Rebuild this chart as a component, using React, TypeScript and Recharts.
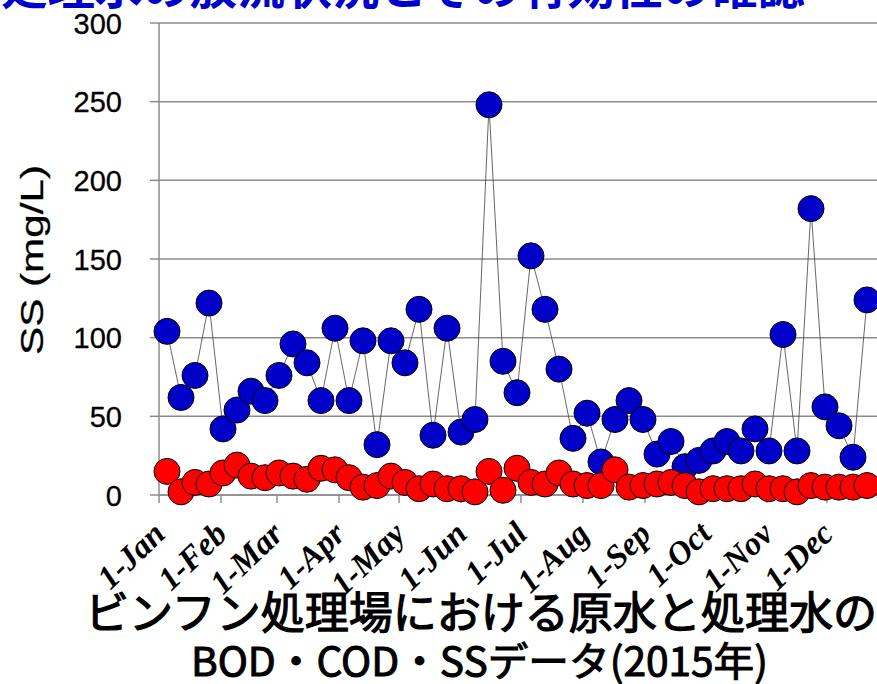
import React from "react";
import {
  ComposedChart,
  Line,
  XAxis,
  YAxis,
  CartesianGrid,
} from "recharts";

// Sampling dates (weekly, 2015)
const sampleDates = [
  "2015-01-05", "2015-01-12", "2015-01-19", "2015-01-26",
  "2015-02-02", "2015-02-09", "2015-02-16", "2015-02-23",
  "2015-03-02", "2015-03-09", "2015-03-16", "2015-03-23", "2015-03-30",
  "2015-04-06", "2015-04-13", "2015-04-20", "2015-04-27",
  "2015-05-04", "2015-05-11", "2015-05-18", "2015-05-25",
  "2015-06-01", "2015-06-08", "2015-06-15", "2015-06-22", "2015-06-29",
  "2015-07-06", "2015-07-13", "2015-07-20", "2015-07-27",
  "2015-08-03", "2015-08-10", "2015-08-17", "2015-08-24", "2015-08-31",
  "2015-09-07", "2015-09-14", "2015-09-21", "2015-09-28",
  "2015-10-05", "2015-10-12", "2015-10-19", "2015-10-26",
  "2015-11-02", "2015-11-09", "2015-11-16", "2015-11-23", "2015-11-30",
  "2015-12-07", "2015-12-14", "2015-12-21",
];

// SS of raw water (blue)
const rawSS = [
  104, 62, 76, 122, 42, 54, 66, 60, 76, 96,
  84, 60, 106, 60, 98, 32, 98, 84, 118, 38,
  106, 40, 48, 248, 85, 65, 152, 118, 80, 36,
  52, 21, 48, 60, 48, 26, 34, 18, 22, 28,
  34, 28, 42, 28, 102, 28, 182, 56, 44, 24, 124,
];

// SS of treated water (red)
const treatedSS = [
  15, 2, 8, 7, 14, 19, 12, 11, 14, 12,
  10, 17, 16, 11, 5, 6, 12, 8, 4, 7,
  4, 4, 2, 15, 3, 17, 8, 7, 14, 7,
  6, 6, 16, 5, 6, 7, 8, 6, 2, 4,
  4, 4, 7, 4, 4, 2, 6, 5, 5, 5, 6,
];

const monthStartDates = [
  "2015-01-01", "2015-02-01", "2015-03-01", "2015-04-01",
  "2015-05-01", "2015-06-01", "2015-07-01", "2015-08-01",
  "2015-09-01", "2015-10-01", "2015-11-01", "2015-12-01",
];
const monthLabels = [
  "1-Jan", "1-Feb", "1-Mar", "1-Apr", "1-May", "1-Jun",
  "1-Jul", "1-Aug", "1-Sep", "1-Oct", "1-Nov", "1-Dec",
];
const yTicks = [0, 50, 100, 150, 200, 250, 300];

const yTitle = "SS (mg/L)";
const bottomTitle1 = "ビンフン処理場における原水と処理水の";
const bottomTitle2 = "BOD・COD・SSデータ(2015年)";
const topTitle = "処理水の放流状況とその有効性の確認";

const dayOfYear = (s: string) =>
  Math.round((Date.parse(s + "T00:00:00Z") - Date.parse("2015-01-01T00:00:00Z")) / 86400000);

const monthTicks = monthStartDates.map(dayOfYear);
const labelByDay: Record<number, string> = {};
monthTicks.forEach((d, i) => (labelByDay[d] = monthLabels[i]));

const data = sampleDates.map((d, i) => ({
  day: dayOfYear(d),
  raw: rawSS[i],
  treated: treatedSS[i],
}));

const GRID = "#8c8c8c";

const XTick = (props: any) => {
  const { x, payload } = props;
  const tx = x + 8;
  const ty = 536;
  return (
    <text
      x={tx}
      y={ty}
      transform={`rotate(-44, ${tx}, ${ty})`}
      textAnchor="end"
      fontFamily='"Liberation Serif", "Times New Roman", serif'
      fontWeight="bold"
      fontStyle="italic"
      fontSize={33}
      fill="#000"
    >
      {labelByDay[payload.value]}
    </text>
  );
};

const YTick = (props: any) => {
  const { x, y, payload } = props;
  return (
    <text
      x={x - 26}
      y={y}
      dy={10.5}
      textAnchor="end"
      fontFamily='"Liberation Sans", Arial, sans-serif'
      fontSize={29}
      fill="#000"
      stroke="#000"
      strokeWidth={0.3}
    >
      {payload.value}
    </text>
  );
};

const YTitle = () => (
  <text
    x={0}
    y={0}
    transform="translate(43, 260) rotate(-90)"
    textAnchor="middle"
    fontFamily='"Liberation Sans", Arial, sans-serif'
    fontSize={32}
    textLength={190}
    lengthAdjust="spacingAndGlyphs"
    fill="#000"
    stroke="#000"
    strokeWidth={0.3}
  >
    {yTitle}
  </text>
);

export default function App() {
  return (
    <div
      style={{
        position: "absolute",
        left: 0,
        top: 0,
        width: 877,
        height: 684,
        overflow: "hidden",
        background: "#fff",
      }}
    >
      <ComposedChart
        width={877}
        height={684}
        data={data}
        margin={{ top: 23, right: 0, left: 0, bottom: 0 }}
      >
        <CartesianGrid
          horizontal={true}
          vertical={false}
          stroke={GRID}
          strokeWidth={1.5}
        />
        <XAxis
          type="number"
          dataKey="day"
          domain={[0, 359]}
          ticks={monthTicks}
          interval={0}
          height={189}
          tickSize={8}
          axisLine={{ stroke: GRID, strokeWidth: 1.5 }}
          tickLine={{ stroke: GRID, strokeWidth: 1.5 }}
          tick={<XTick />}
        />
        <YAxis
          type="number"
          domain={[0, 300]}
          ticks={yTicks}
          interval={0}
          width={159}
          tickSize={9}
          axisLine={{ stroke: GRID, strokeWidth: 1.5 }}
          tickLine={{ stroke: GRID, strokeWidth: 1.5 }}
          tick={<YTick />}
          label={<YTitle />}
        />
        <Line
          type="linear"
          dataKey="raw"
          stroke="#404040"
          strokeWidth={0.8}
          dot={{ r: 13, fill: "#0000C8", stroke: "#000", strokeWidth: 1 }}
          isAnimationActive={false}
        />
        <Line
          type="linear"
          dataKey="treated"
          stroke="none"
          dot={{ r: 13, fill: "#FF0000", stroke: "#000", strokeWidth: 1 }}
          isAnimationActive={false}
        />
      </ComposedChart>
      <svg
        width={877}
        height={684}
        style={{ position: "absolute", left: 0, top: 0, pointerEvents: "none" }}
      >
        <text
          x={0}
          y={4}
          fontFamily='"Noto Sans CJK JP", sans-serif'
          fontWeight="bold"
          fontSize={46}
          fill="#0000CC"
          textLength={805}
          lengthAdjust="spacingAndGlyphs"
        >
          {topTitle}
        </text>
        <text
          x={85}
          y={629}
          fontFamily='"Noto Sans CJK JP", sans-serif'
          fontWeight="normal"
          fontSize={44}
          fill="#000"
          stroke="#000"
          strokeWidth={1.2}
          textLength={792}
          lengthAdjust="spacingAndGlyphs"
        >
          {bottomTitle1}
        </text>
        <text
          x={191}
          y={676}
          fontFamily='"Noto Sans CJK JP", sans-serif'
          fontWeight="normal"
          fontSize={40}
          fill="#000"
          stroke="#000"
          strokeWidth={1}
          textLength={577}
          lengthAdjust="spacingAndGlyphs"
        >
          {bottomTitle2}
        </text>
      </svg>
    </div>
  );
}
